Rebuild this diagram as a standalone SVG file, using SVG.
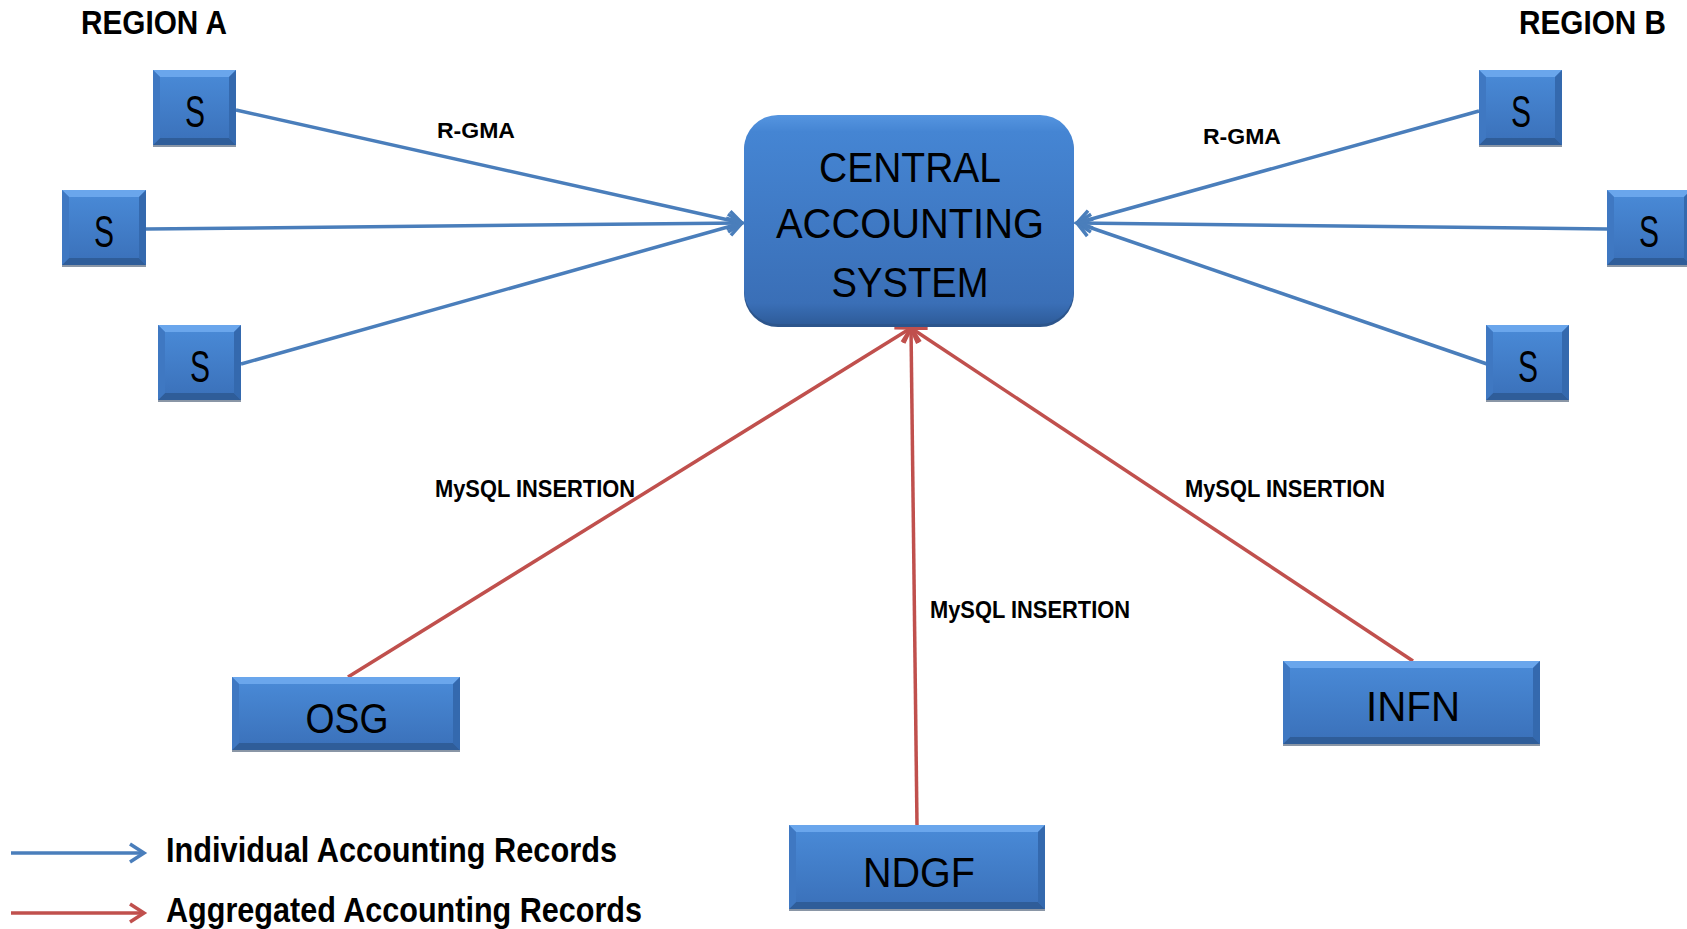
<svg xmlns="http://www.w3.org/2000/svg" width="1687" height="929" viewBox="0 0 1687 929">
<style>
.bg{fill:#ffffff}
.face{fill:url(#gFace)}
.bt{fill:#6aa6ec}
.bb{fill:#2f5d99}
.bl{fill:#3f78c2}
.br{fill:#3469ae}
.sh{fill:#8a96a6}
.ntxt{font-family:"Liberation Sans","Noto Sans",sans-serif;fill:#000;text-anchor:middle}
.lbl{font-family:"Liberation Sans","Noto Sans",sans-serif;font-weight:bold;fill:#000}
.blue{stroke:#4a7ebb;stroke-width:3.5;fill:none}
.red{stroke:#c0504d;stroke-width:3.5;fill:none}
</style>
<defs>
<linearGradient id="gFace" x1="0" y1="0" x2="0" y2="1">
<stop offset="0" stop-color="#4a8bd8"/>
<stop offset="1" stop-color="#3a70b9"/>
</linearGradient>
<linearGradient id="gCentral" x1="0" y1="0" x2="0" y2="1">
<stop offset="0" stop-color="#5595e0"/>
<stop offset="0.08" stop-color="#4585d3"/>
<stop offset="0.9" stop-color="#3a6fb7"/>
<stop offset="1" stop-color="#2e5c9a"/>
</linearGradient>
<marker id="arrB" markerUnits="userSpaceOnUse" markerWidth="22" markerHeight="22" refX="18" refY="11" orient="auto" viewBox="0 0 22 22">
<path d="M4,2 L18,11 L4,20" fill="none" stroke="#4a7ebb" stroke-width="3.5"/>
</marker>
<marker id="arrR" markerUnits="userSpaceOnUse" markerWidth="22" markerHeight="22" refX="18" refY="11" orient="auto" viewBox="0 0 22 22">
<path d="M4,2 L18,11 L4,20" fill="none" stroke="#c0504d" stroke-width="3.5"/>
</marker>
</defs>
<rect class="bg" x="0" y="0" width="1687" height="929"/>

<g id="connectors">
<line class="blue" x1="236" y1="110" x2="742" y2="223" marker-end="url(#arrB)"/>
<line class="blue" x1="146" y1="229" x2="742" y2="223" marker-end="url(#arrB)"/>
<line class="blue" x1="241" y1="364" x2="742" y2="223" marker-end="url(#arrB)"/>
<line class="blue" x1="1479" y1="111" x2="1077" y2="223" marker-end="url(#arrB)"/>
<line class="blue" x1="1607" y1="229" x2="1077" y2="223" marker-end="url(#arrB)"/>
<line class="blue" x1="1487" y1="364" x2="1077" y2="223" marker-end="url(#arrB)"/>
<line class="red" x1="348" y1="677" x2="911" y2="328" marker-end="url(#arrR)"/>
<line class="red" x1="917" y1="825" x2="911" y2="328" marker-end="url(#arrR)"/>
<line class="red" x1="1413" y1="661" x2="911" y2="328" marker-end="url(#arrR)"/>
<text class="lbl" x="437" y="138" font-size="22" textLength="78" lengthAdjust="spacingAndGlyphs">R-GMA</text>
<text class="lbl" x="1203" y="144" font-size="22" textLength="78" lengthAdjust="spacingAndGlyphs">R-GMA</text>
<text class="lbl" x="435" y="497" font-size="23" textLength="200" lengthAdjust="spacingAndGlyphs">MySQL INSERTION</text>
<text class="lbl" x="930" y="618" font-size="23" textLength="200" lengthAdjust="spacingAndGlyphs">MySQL INSERTION</text>
<text class="lbl" x="1185" y="497" font-size="23" textLength="200" lengthAdjust="spacingAndGlyphs">MySQL INSERTION</text>
</g>

<g id="regionA"><text class="lbl" x="81" y="34" font-size="33" textLength="146" lengthAdjust="spacingAndGlyphs">REGION A</text></g>
<g id="regionB"><text class="lbl" x="1519" y="34" font-size="33" textLength="147" lengthAdjust="spacingAndGlyphs">REGION B</text></g>

<g id="central">
<rect x="744" y="117" width="330" height="210" rx="34" fill="#2c558c"/>
<rect x="744" y="115" width="330" height="209" rx="34" fill="url(#gCentral)"/>
<text class="ntxt" x="910" y="182" font-size="42" textLength="182" lengthAdjust="spacingAndGlyphs">CENTRAL</text>
<text class="ntxt" x="910" y="238" font-size="42" textLength="268" lengthAdjust="spacingAndGlyphs">ACCOUNTING</text>
<text class="ntxt" x="910" y="297" font-size="42" textLength="157" lengthAdjust="spacingAndGlyphs">SYSTEM</text>
</g>

<g id="sA1">
<rect class="sh" x="153" y="144" width="83" height="3"/>
<rect class="face" x="153" y="70" width="83" height="75"/>
<polygon class="bt" points="153,70 236,70 229,77 160,77"/>
<polygon class="bb" points="153,145 236,145 229,138 160,138"/>
<polygon class="bl" points="153,70 160,77 160,138 153,145"/>
<polygon class="br" points="236,70 229,77 229,138 236,145"/>
<text class="ntxt" x="195" y="127" font-size="44" textLength="20" lengthAdjust="spacingAndGlyphs">S</text>
</g>
<g id="sA2">
<rect class="sh" x="62" y="264" width="84" height="3"/>
<rect class="face" x="62" y="190" width="84" height="75"/>
<polygon class="bt" points="62,190 146,190 139,197 69,197"/>
<polygon class="bb" points="62,265 146,265 139,258 69,258"/>
<polygon class="bl" points="62,190 69,197 69,258 62,265"/>
<polygon class="br" points="146,190 139,197 139,258 146,265"/>
<text class="ntxt" x="104" y="247" font-size="44" textLength="20" lengthAdjust="spacingAndGlyphs">S</text>
</g>
<g id="sA3">
<rect class="sh" x="158" y="399" width="83" height="3"/>
<rect class="face" x="158" y="325" width="83" height="75"/>
<polygon class="bt" points="158,325 241,325 234,332 165,332"/>
<polygon class="bb" points="158,400 241,400 234,393 165,393"/>
<polygon class="bl" points="158,325 165,332 165,393 158,400"/>
<polygon class="br" points="241,325 234,332 234,393 241,400"/>
<text class="ntxt" x="200" y="382" font-size="44" textLength="20" lengthAdjust="spacingAndGlyphs">S</text>
</g>
<g id="sB1">
<rect class="sh" x="1479" y="144" width="83" height="3"/>
<rect class="face" x="1479" y="70" width="83" height="75"/>
<polygon class="bt" points="1479,70 1562,70 1555,77 1486,77"/>
<polygon class="bb" points="1479,145 1562,145 1555,138 1486,138"/>
<polygon class="bl" points="1479,70 1486,77 1486,138 1479,145"/>
<polygon class="br" points="1562,70 1555,77 1555,138 1562,145"/>
<text class="ntxt" x="1521" y="127" font-size="44" textLength="20" lengthAdjust="spacingAndGlyphs">S</text>
</g>
<g id="sB2">
<rect class="sh" x="1607" y="264" width="84" height="3"/>
<rect class="face" x="1607" y="190" width="84" height="75"/>
<polygon class="bt" points="1607,190 1691,190 1684,197 1614,197"/>
<polygon class="bb" points="1607,265 1691,265 1684,258 1614,258"/>
<polygon class="bl" points="1607,190 1614,197 1614,258 1607,265"/>
<polygon class="br" points="1691,190 1684,197 1684,258 1691,265"/>
<text class="ntxt" x="1649" y="247" font-size="44" textLength="20" lengthAdjust="spacingAndGlyphs">S</text>
</g>
<g id="sB3">
<rect class="sh" x="1486" y="399" width="83" height="3"/>
<rect class="face" x="1486" y="325" width="83" height="75"/>
<polygon class="bt" points="1486,325 1569,325 1562,332 1493,332"/>
<polygon class="bb" points="1486,400 1569,400 1562,393 1493,393"/>
<polygon class="bl" points="1486,325 1493,332 1493,393 1486,400"/>
<polygon class="br" points="1569,325 1562,332 1562,393 1569,400"/>
<text class="ntxt" x="1528" y="382" font-size="44" textLength="20" lengthAdjust="spacingAndGlyphs">S</text>
</g>

<g id="osg">
<rect class="sh" x="232" y="749" width="228" height="3"/>
<rect class="face" x="232" y="677" width="228" height="73"/>
<polygon class="bt" points="232,677 460,677 453,684 239,684"/>
<polygon class="bb" points="232,750 460,750 453,743 239,743"/>
<polygon class="bl" points="232,677 239,684 239,743 232,750"/>
<polygon class="br" points="460,677 453,684 453,743 460,750"/>
<text class="ntxt" x="347" y="733" font-size="43" textLength="83" lengthAdjust="spacingAndGlyphs">OSG</text>
</g>
<g id="ndgf">
<rect class="sh" x="789" y="908" width="256" height="3"/>
<rect class="face" x="789" y="825" width="256" height="84"/>
<polygon class="bt" points="789,825 1045,825 1038,832 796,832"/>
<polygon class="bb" points="789,909 1045,909 1038,902 796,902"/>
<polygon class="bl" points="789,825 796,832 796,902 789,909"/>
<polygon class="br" points="1045,825 1038,832 1038,902 1045,909"/>
<text class="ntxt" x="919" y="887" font-size="43" textLength="112" lengthAdjust="spacingAndGlyphs">NDGF</text>
</g>
<g id="infn">
<rect class="sh" x="1283" y="743" width="257" height="3"/>
<rect class="face" x="1283" y="661" width="257" height="83"/>
<polygon class="bt" points="1283,661 1540,661 1533,668 1290,668"/>
<polygon class="bb" points="1283,744 1540,744 1533,737 1290,737"/>
<polygon class="bl" points="1283,661 1290,668 1290,737 1283,744"/>
<polygon class="br" points="1540,661 1533,668 1533,737 1540,744"/>
<text class="ntxt" x="1413" y="721" font-size="43" textLength="94" lengthAdjust="spacingAndGlyphs">INFN</text>
</g>

<g id="legend">
<line class="blue" x1="11" y1="853" x2="144" y2="853" marker-end="url(#arrB)"/>
<text class="lbl" x="166" y="862" font-size="35" textLength="451" lengthAdjust="spacingAndGlyphs">Individual Accounting Records</text>
<line class="red" x1="11" y1="913" x2="144" y2="913" marker-end="url(#arrR)"/>
<text class="lbl" x="166" y="922" font-size="35" textLength="476" lengthAdjust="spacingAndGlyphs">Aggregated Accounting Records</text>
</g>
</svg>
